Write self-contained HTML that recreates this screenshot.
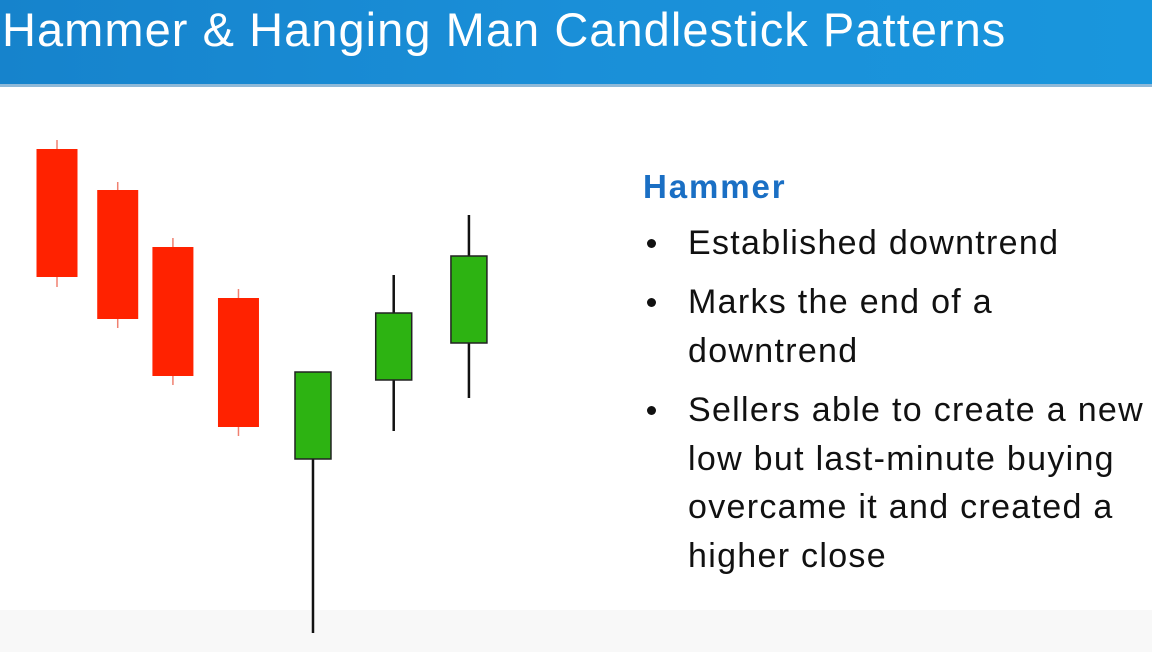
<!DOCTYPE html>
<html><head><meta charset="utf-8">
<style>
html,body{margin:0;padding:0;width:1152px;height:652px;overflow:hidden;background:#fff;font-family:"Liberation Sans",sans-serif;}
#hdr{position:absolute;left:0;top:0;width:1152px;height:84px;background:linear-gradient(90deg,#1683cc,#1a8fd8 50%,#1996dd);border-bottom:3px solid #8fb9d8;}
#title{position:absolute;left:2px;top:2px;color:#fff;font-size:47px;letter-spacing:1.05px;white-space:nowrap;}
#foot{position:absolute;left:0;top:610px;width:1152px;height:42px;background:#f8f8f8;}
#heading{position:absolute;left:643px;top:167px;line-height:39px;color:#1a6fc4;font-weight:bold;font-size:33px;letter-spacing:1.9px}
.b{position:absolute;left:688px;font-size:34px;line-height:49px;color:#111;white-space:nowrap;letter-spacing:1.3px}
.dot{position:absolute;left:647px;width:9px;height:9px;border-radius:50%;background:#111;}
</style></head><body>
<div id="hdr"><div id="title">Hammer &amp; Hanging Man Candlestick Patterns</div></div>
<div id="foot"></div>
<svg id="chart" width="620" height="652" style="position:absolute;left:0;top:0"></svg>
<div id="heading">Hammer</div>
<div class="dot" style="top:239px"></div>
<div class="b" style="top:219px">Established downtrend</div>
<div class="dot" style="top:298px"></div>
<div class="b" style="top:278px">Marks the end of a<br>downtrend</div>
<div class="dot" style="top:406px"></div>
<div class="b" style="top:386px;line-height:48.5px">Sellers able to create a new<br>low but last-minute buying<br>overcame it and created a<br>higher close</div>
<script>
const times=[0,0.88,1.68,2.63,3.71,4.88,5.97];
const opens=[100.6,92.4,81,70.8,38.6,54.4,61.8];
const highs=[102.4,94,82.8,72.6,56,75.4,87.4];
const lows=[73,64.8,53.4,43.2,3.8,44.2,50.8];
const closes=[75,66.6,55.2,45,56,67.8,79.2];
const y=p=>652-p*5;
const x=t=>57+t*69;
const svg=document.getElementById('chart');
const NS='http://www.w3.org/2000/svg';
for(let i=0;i<times.length;i++){
  const up=closes[i]>opens[i];
  const cx=x(times[i]);
  const w=up?36:41;
  const wk=document.createElementNS(NS,'line');
  
  
  wk.setAttribute('x1',cx);wk.setAttribute('x2',cx);
  wk.setAttribute('y1',y(highs[i]));wk.setAttribute('y2',y(lows[i]));
  wk.setAttribute('stroke',up?'#111':'#f08070');
  wk.setAttribute('stroke-width',up?2.5:1.5);
  svg.appendChild(wk);
  const r=document.createElementNS(NS,'rect');
  
  
  const top=y(Math.max(opens[i],closes[i])),bot=y(Math.min(opens[i],closes[i]));
  r.setAttribute('x',cx-w/2);r.setAttribute('y',top);
  r.setAttribute('width',w);r.setAttribute('height',bot-top);
  r.setAttribute('fill',up?'#2db312':'#ff2200');
  if(up){r.setAttribute('stroke','#222');r.setAttribute('stroke-width',1.5);}
  svg.appendChild(r);
}
</script>
</body></html>
